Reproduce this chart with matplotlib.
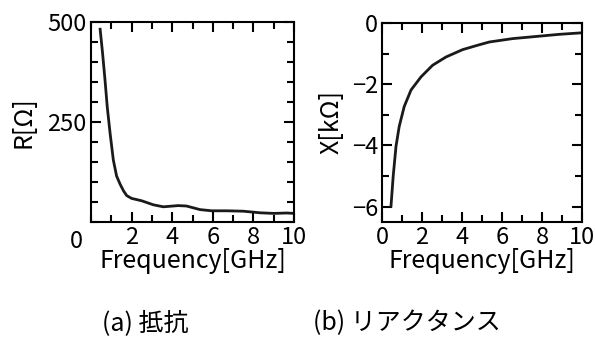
import matplotlib
matplotlib.use("Agg")
import matplotlib.pyplot as plt
from matplotlib.ticker import MultipleLocator, FixedLocator
import matplotlib.transforms as mtransforms

plt.rcParams["font.family"] = ["Noto Sans CJK JP", "DejaVu Sans"]

# Resistance R [Ohm] vs frequency [GHz]
freq_r = [0.45, 0.57, 0.69, 0.80, 0.94, 1.10, 1.26, 1.43, 1.60, 1.76, 2.0, 2.5,
          3.07, 3.56, 4.3, 4.7, 5.37, 5.94, 6.68, 7.5, 8.33, 9.0, 9.64, 10.0]
res_r = [482, 422, 355, 288, 222, 155, 115, 95, 78, 66, 59, 53,
         43, 38, 41, 40, 31, 28, 28, 27, 23, 21.5, 22.5, 21.5]

# Reactance X [kOhm] vs frequency [GHz]
freq_x = [0.45, 0.56, 0.70, 0.86, 1.11, 1.45, 1.95, 2.53, 3.2, 4.03, 4.87,
          5.37, 6.53, 7.7, 8.87, 10.0]
react_x = [-5.98, -5.0, -4.03, -3.38, -2.73, -2.19, -1.76, -1.38, -1.11, -0.87, -0.71,
           -0.62, -0.51, -0.44, -0.37, -0.32]

FS = 18
TICK_FS = 17
_LW = 2.0


def _style(ax):
    for sp in ax.spines.values():
        sp.set_linewidth(1.5)
    ax.tick_params(which="both", direction="in", top=True, right=True,
                   width=1.5, labelsize=TICK_FS, pad=3)
    ax.tick_params(which="major", length=7)
    ax.tick_params(which="minor", length=5)
    ax.set_xlim(0, 10)
    ax.xaxis.set_minor_locator(MultipleLocator(1))


fig = plt.figure(figsize=(5.95, 3.43), dpi=100)

# (a) resistance
ax1 = fig.add_axes([91 / 595, 1 - 222 / 343, 203 / 595, 200 / 343])
ax1.plot(freq_r, res_r, color="#1a1a1a", lw=_LW)
_style(ax1)
ax1.set_ylim(0, 500)
ax1.xaxis.set_major_locator(FixedLocator([2, 4, 6, 8, 10]))
ax1.yaxis.set_major_locator(FixedLocator([250, 500]))
ax1.yaxis.set_minor_locator(MultipleLocator(50))
ax1.set_xlabel("Frequency[GHz]", fontsize=FS, labelpad=-1)
ax1.set_ylabel("R[Ω]", fontsize=FS, labelpad=8)
off = mtransforms.offset_copy(ax1.transData, fig=fig, x=-8, y=-19, units="dots")
ax1.text(0, 0, "0", transform=off, ha="right", va="center", fontsize=TICK_FS)

# (b) reactance
ax2 = fig.add_axes([382 / 595, 1 - 222 / 343, 200 / 595, 199 / 343])
ax2.plot(freq_x, react_x, color="#1a1a1a", lw=_LW)
_style(ax2)
ax2.set_ylim(-6.5, 0)
ax2.xaxis.set_major_locator(MultipleLocator(2))
ax2.yaxis.set_major_locator(MultipleLocator(2))
ax2.yaxis.set_minor_locator(MultipleLocator(1))
ax2.set_xlabel("Frequency[GHz]", fontsize=FS, labelpad=-1)
ax2.set_ylabel("X[kΩ]", fontsize=FS, labelpad=5)

fig.text(145 / 595, 1 - 323 / 343, "(a) 抵抗", ha="center", va="center", fontsize=FS)
fig.text(407 / 595, 1 - 323 / 343, "(b) リアクタンス", ha="center", va="center", fontsize=FS)

fig.savefig("out.png", dpi=100)
